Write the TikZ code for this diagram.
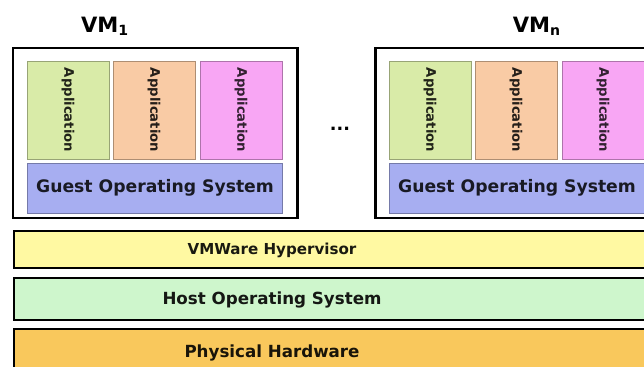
\documentclass[tikz,border=0pt]{standalone}
\usepackage{fontspec}
\setmainfont{DejaVu Sans}

\definecolor{appgreen}{HTML}{D9EBA8}
\definecolor{apppeach}{HTML}{F9CBA5}
\definecolor{apppink}{HTML}{F8A6F4}
\definecolor{guestblue}{HTML}{A7AEF1}
\definecolor{hypyellow}{HTML}{FFF9A2}
\definecolor{hostgreen}{HTML}{CEF6CC}
\definecolor{hworange}{HTML}{F9C85C}

\begin{document}
\begin{tikzpicture}[x=0.02cm, y=-0.02cm, font=\bfseries]

\useasboundingbox (0,0) rectangle (644,367);
\clip (0,0) rectangle (644,367);

% --- Параметры ---
\def\vmtop{48}     % верх рамки VM
\def\vmbot{218}    % низ рамки VM
\def\apptop{61}    % верх приложений
\def\appbot{159}   % низ приложений
\def\gtop{163}     % верх гостевой ОС
\def\gbot{213}     % низ гостевой ОС

% --- Виртуальные машины ---
\foreach \vi/\vx/\lx/\lab in {1/13/105/{VM\textsubscript{1}}, 2/375/537/{VM\textsubscript{n}}} {
  \draw[line width=1.7pt] (\vx,\vmtop) rectangle ++(284,\vmbot-\vmtop);
  \node[font=\bfseries\fontsize{12}{14}\selectfont] (vm\vi) at (\lx,26) {\lab};

  % приложения: смещение/цвет/цвет текста
  \foreach \j/\ax/\col/\txt in {1/14/appgreen/appgreen!15!black,
                                2/100/apppeach/apppeach!15!black,
                                3/187/apppink/apppink!20!black} {
    \fill[\col, draw=\col!70!black, line width=0.5pt]
      (\vx+\ax,\apptop) rectangle (\vx+\ax+82,\appbot);
    \node[rotate=-90, text=\txt, font=\bfseries\fontsize{7.5}{9}\selectfont]
      (app\vi\j) at (\vx+\ax+41,{(\apptop+\appbot)/2}) {Application};
  }

  % гостевая ОС
  \fill[guestblue, draw=guestblue!70!black, line width=0.5pt]
    (\vx+14,\gtop) rectangle (\vx+269,\gbot);
  \node[text=guestblue!15!black, font=\bfseries\fontsize{9.8}{11}\selectfont]
    (guest\vi) at (\vx+142,{(\gtop+\gbot)/2}) {Guest Operating System};
}

% --- Многоточие между VM ---
\node[font=\bfseries\fontsize{10}{12}\selectfont] (dots) at (340,129) {...};

% --- Слои под VM: верх/низ/цвет/размер шрифта/текст ---
\foreach \k/\ytop/\ybot/\col/\size/\lab in {
    1/231/268/hypyellow/8.6/{VMWare Hypervisor},
    2/278/320/hostgreen/9.5/{Host Operating System},
    3/329/385/hworange/9.5/{Physical Hardware}} {
  \fill[\col, draw=black, line width=1.2pt] (14,\ytop) rectangle (670,\ybot);
  \node[text=\col!10!black, font=\bfseries\fontsize{\size}{12}\selectfont]
    (layer\k) at (272,{\ytop+19+(\k-1)*2.5}) {\lab};
}

\end{tikzpicture}
\end{document}
